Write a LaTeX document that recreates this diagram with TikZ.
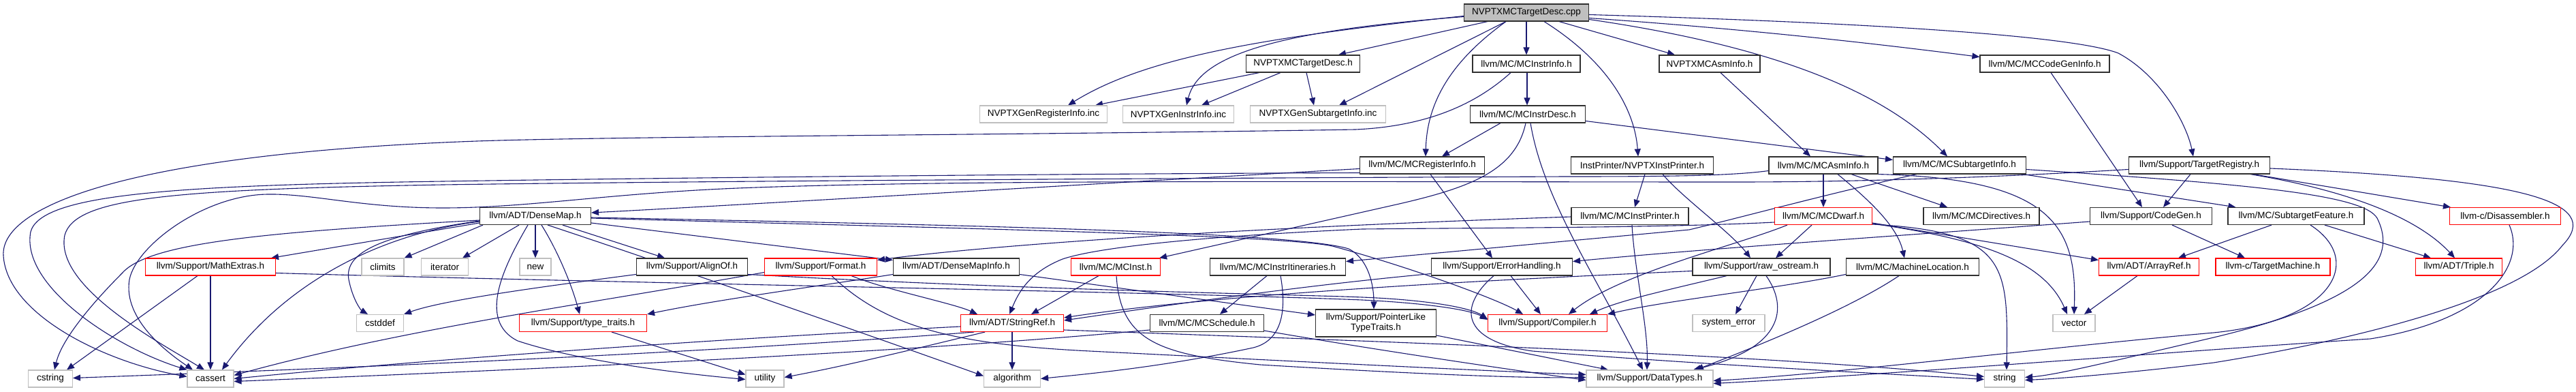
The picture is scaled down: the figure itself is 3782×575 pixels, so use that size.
\documentclass[tikz,border=0pt]{standalone}
\usepackage{fontspec}
\setmainfont{Liberation Sans}
\usetikzlibrary{arrows.meta}
\definecolor{eblue}{HTML}{191970}
\definecolor{gbord}{HTML}{BFBFBF}
\definecolor{rbord}{HTML}{FF0000}
\definecolor{kbord}{HTML}{303030}
\newcommand{\dgfont}{\fontsize{13.5pt}{15pt}\selectfont}
\pgfdeclarelayer{back}
\pgfdeclarelayer{edges}
\pgfsetlayers{back,edges,main}
\begin{document}
\begin{tikzpicture}[x=1pt,y=-1pt,
 nbase/.style={rectangle, line width=1.15pt, fill=white, minimum height=25pt, inner sep=0pt, font=\dgfont, text=black},
 nblk/.style={nbase, draw=kbord},
 nred/.style={nbase, draw=rbord},
 ngry/.style={nbase, draw=gbord},
 nroot/.style={nbase, draw=kbord, fill=gbord},
 dep/.style={draw=eblue, line width=1.1pt, -{Triangle[length=11pt,width=9pt]}}]
\useasboundingbox (0,0) rectangle (3782,575);
\begin{pgfonlayer}{back}
\fill[white] (0,0) rectangle (3782,575);
\end{pgfonlayer}
% row 0
\node[nroot, minimum width=183pt] (cpp) at (2241,18.5) {NVPTXMCTargetDesc.cpp};
% row 1
\node[nblk, minimum width=167pt] (desch) at (1913,93.5) {NVPTXMCTargetDesc.h};
\node[nblk, minimum width=158pt] (instrinfo) at (2241,93.5) {llvm/MC/MCInstrInfo.h};
\node[nblk, minimum width=148pt] (nvasm) at (2510,93.5) {NVPTXMCAsmInfo.h};
\node[nblk, minimum width=190pt] (cgi) at (3002,93.5) {llvm/MC/MCCodeGenInfo.h};
% row 2
\node[ngry, minimum width=187pt] (genreg) at (1532,167.5) {NVPTXGenRegisterInfo.inc};
\node[ngry, minimum width=163pt] (geninstr) at (1730,167.5) {NVPTXGenInstrInfo.inc};
\node[ngry, minimum width=199pt] (gensub) at (1935,167.5) {NVPTXGenSubtargetInfo.inc};
\node[nblk, minimum width=169pt] (instrdesc) at (2243,167.5) {llvm/MC/MCInstrDesc.h};
% row 3
\node[nblk, minimum width=183pt] (reginfo) at (2088,242.5) {llvm/MC/MCRegisterInfo.h};
\node[nblk, minimum width=209pt] (instpr) at (2411,242.5) {InstPrinter/NVPTXInstPrinter.h};
\node[nblk, minimum width=160pt] (mcasm) at (2677,242.5) {llvm/MC/MCAsmInfo.h};
\node[nblk, minimum width=195pt] (subinfo) at (2877,242.5) {llvm/MC/MCSubtargetInfo.h};
\node[nblk, minimum width=207pt] (treg) at (3229,242.5) {llvm/Support/TargetRegistry.h};
% row 4
\node[nblk, minimum width=163pt] (densemap) at (786,317) {llvm/ADT/DenseMap.h};
\node[nblk, minimum width=172pt] (mcip) at (2393,317) {llvm/MC/MCInstPrinter.h};
\node[nred, minimum width=143pt] (dwarf) at (2677,317) {llvm/MC/MCDwarf.h};
\node[nblk, minimum width=170pt] (directives) at (2909,317) {llvm/MC/MCDirectives.h};
\node[nblk, minimum width=179pt] (codegen) at (3158,317) {llvm/Support/CodeGen.h};
\node[nblk, minimum width=200pt] (subfeat) at (3371,317) {llvm/MC/SubtargetFeature.h};
\node[nred, minimum width=163pt] (disasm) at (3678,317) {llvm-c/Disassembler.h};
% row 5
\node[nred, minimum width=191pt] (mathx) at (309,391.5) {llvm/Support/MathExtras.h};
\node[ngry, minimum width=62pt] (climits) at (562,391.5) {climits};
\node[ngry, minimum width=69pt] (iterator) at (653,391.5) {iterator};
\node[ngry, minimum width=46pt] (new) at (786,391.5) {new};
\node[nblk, minimum width=163pt] (alignof) at (1016,391.5) {llvm/Support/AlignOf.h};
\node[nred, minimum width=165pt] (format) at (1205,391.5) {llvm/Support/Format.h};
\node[nblk, minimum width=185pt] (dmi) at (1404,391.5) {llvm/ADT/DenseMapInfo.h};
\node[nred, minimum width=131pt] (mcinst) at (1638,391.5) {llvm/MC/MCInst.h};
\node[nblk, minimum width=199pt] (itin) at (1876,391.5) {llvm/MC/MCInstrItineraries.h};
\node[nblk, minimum width=207pt] (errh) at (2205,391.5) {llvm/Support/ErrorHandling.h};
\node[nblk, minimum width=202pt] (rawos) at (2586,391.5) {llvm/Support/raw\_ostream.h};
\node[nblk, minimum width=195pt] (machloc) at (2808,391.5) {llvm/MC/MachineLocation.h};
\node[nred, minimum width=147pt] (arrayref) at (3155,391.5) {llvm/ADT/ArrayRef.h};
\node[nred, minimum width=168pt] (tmach) at (3337,391.5) {llvm-c/TargetMachine.h};
\node[nred, minimum width=127pt] (triple) at (3610,391.5) {llvm/ADT/Triple.h};
% row 6
\node[ngry, minimum width=69pt] (cstddef) at (558,474) {cstddef};
\node[nred, minimum width=187pt] (ttraits) at (856,474) {llvm/Support/type\_traits.h};
\node[nred, minimum width=151pt] (sref) at (1486,474) {llvm/ADT/StringRef.h};
\node[nblk, minimum width=167pt] (sched) at (1772,474) {llvm/MC/MCSchedule.h};
\node[nblk, minimum width=177pt, minimum height=40pt, align=center] (ptrlike) at (2020,474) {llvm/Support/PointerLike\\TypeTraits.h};
\node[nred, minimum width=175pt] (compiler) at (2272,474) {llvm/Support/Compiler.h};
\node[ngry, minimum width=106pt] (syserr) at (2538,474) {system\_error};
\node[ngry, minimum width=62pt] (vector) at (3045,474) {vector};
% row 7
\node[ngry, minimum width=65pt] (cstring) at (74,555.5) {cstring};
\node[ngry, minimum width=68pt] (cassert) at (309,555.5) {cassert};
\node[ngry, minimum width=56pt] (utility) at (1123,555.5) {utility};
\node[ngry, minimum width=83pt] (algorithm) at (1486,555.5) {algorithm};
\node[ngry, minimum width=186pt] (datatypes) at (2422,555.5) {llvm/Support/DataTypes.h};
\node[ngry, minimum width=59pt] (string) at (2943,555.5) {string};

\begin{pgfonlayer}{edges}
% from cpp
\draw[dep] ([xshift=-57pt]cpp.south) -- ([xshift=52pt]desch.north);
\draw[dep] ([xshift=-30pt]cpp.south) -- ([xshift=31pt]gensub.north);
\draw[dep] ([yshift=-6pt]cpp.west) .. controls (1880,45) and (1760,80) .. ([xshift=12pt]geninstr.north);
\draw[dep] ([yshift=-5pt]cpp.west) .. controls (1850,55) and (1680,85) .. ([xshift=36pt]genreg.north);
\draw[dep] (cpp.south) -- (instrinfo.north);
\draw[dep] ([xshift=-30pt]cpp.south) .. controls (2130,90) and (2095,150) .. ([xshift=5pt]reginfo.north);
\draw[dep] ([xshift=26pt]cpp.south) .. controls (2360,90) and (2400,160) .. ([xshift=-6pt]instpr.north);
\draw[dep] ([xshift=48pt]cpp.south) -- ([xshift=-51pt]nvasm.north);
\draw[dep] ([yshift=-10pt]cpp.east) .. controls (2620,70) and (2770,140) .. ([xshift=-18pt]subinfo.north);
\draw[dep] ([yshift=-8pt]cpp.east) .. controls (2600,45) and (2800,70) .. ([yshift=10pt]cgi.west);
\draw[dep] ([yshift=-3pt]cpp.east) .. controls (2800,35) and (3050,55) .. (3110,78) .. controls (3170,110) and (3210,180) .. ([xshift=-9pt]treg.north);
% NVPTXMCTargetDesc.h
\draw[dep] ([xshift=-64pt]desch.south) -- ([xshift=76pt]genreg.north);
\draw[dep] ([xshift=-33pt]desch.south) -- ([xshift=34pt]geninstr.north);
\draw[dep] ([xshift=5pt]desch.south) -- ([xshift=-6pt]gensub.north);
% MCInstrInfo
\draw[dep] ([xshift=1pt]instrinfo.south) -- ([xshift=-1pt]instrdesc.north);
\draw[dep] ([xshift=-23pt]instrinfo.south) .. controls (2170,150) and (2100,185) .. (1990,190) .. controls (1500,198) and (900,200) .. (700,207) .. controls (200,225) and (0,300) .. (5,375) .. controls (10,460) and (150,530) .. ([yshift=3pt]cassert.west);
% NVPTXMCAsmInfo / MCCodeGenInfo
\draw[dep] ([xshift=16pt]nvasm.south) -- ([xshift=-19pt]mcasm.north);
\draw[dep] ([xshift=9pt]cgi.south) -- ([xshift=-13pt]codegen.north);
% MCInstrDesc
\draw[dep] ([xshift=-40pt]instrdesc.south) -- ([xshift=29pt]reginfo.north);
\draw[dep] ([xshift=-3pt]instrdesc.south) .. controls (2225,250) and (2160,275) .. (2050,300) -- ([xshift=-2pt]mcinst.north east);
\draw[dep] ([yshift=-10pt]instrdesc.east) -- ([yshift=8pt]subinfo.west);
\draw[dep] ([xshift=4pt]instrdesc.south) .. controls (2265,290) and (2340,400) .. ([xshift=-10pt]datatypes.north);
% MCRegisterInfo
\draw[dep] ([yshift=-5pt]reginfo.west) .. controls (1600,270) and (1100,300) .. ([yshift=5pt]densemap.east);
\draw[dep] ([xshift=12pt]reginfo.south) -- ([xshift=-14pt]errh.north);
\draw[dep] ([yshift=-11pt]reginfo.west) .. controls (1500,255) and (900,262) .. (650,266) .. controls (250,272) and (60,285) .. (45,340) .. controls (30,420) and (170,510) .. (cassert.north west);
% NVPTXInstPrinter
\draw[dep] ([xshift=4pt]instpr.south) -- ([xshift=7pt]mcip.north);
\draw[dep] ([xshift=30pt]instpr.south) .. controls (2470,290) and (2540,340) .. ([xshift=-16pt]rawos.north);
% MCAsmInfo
\draw[dep] (mcasm.south) -- (dwarf.north);
\draw[dep] ([xshift=21pt]mcasm.south) .. controls (2740,290) and (2785,330) .. ([xshift=-12pt]machloc.north);
\draw[dep] ([xshift=41pt]mcasm.south) -- ([xshift=-50pt]directives.north);
\draw[dep] (mcasm.south east) .. controls (3010,262) and (3050,330) .. (vector.north);
\draw[dep] ([yshift=-8pt]mcasm.west) .. controls (2540,258) and (2450,259) .. (2300,259) .. controls (1600,262) and (1000,266) .. (650,271) .. controls (250,278) and (110,290) .. (95,345) .. controls (80,420) and (230,500) .. ([xshift=-9pt]cassert.north);
% MCSubtargetInfo
\draw[dep] ([xshift=-63pt]subinfo.south) .. controls (2680,285) and (2560,318) .. (2480,337) -- ([yshift=8pt]itin.east);
\draw[dep] ([xshift=-5pt]subinfo.south east) -- ([xshift=12pt]subfeat.north west);
\draw[dep] ([yshift=-6pt]subinfo.east) .. controls (3300,270) and (3470,285) .. (3490,320) .. controls (3520,380) and (3480,440) .. (3250,495) .. controls (3100,530) and (3020,550) .. ([yshift=2pt]string.east);
% TargetRegistry
\draw[dep] ([xshift=-13pt]treg.south) -- ([xshift=18pt]codegen.north);
\draw[dep] ([xshift=75pt]treg.south) .. controls (3450,280) and (3550,320) .. ([xshift=-6pt]triple.north);
\draw[dep] ([xshift=79pt]treg.south) -- ([xshift=2pt]disasm.north west);
\draw[dep] ([yshift=-6pt]treg.west) .. controls (2900,262) and (2700,267) .. (2550,267) .. controls (2000,267) and (1450,263) .. (1110,275) .. controls (900,282) and (780,305) .. (650,305) .. controls (530,305) and (460,284) .. (393,285) .. controls (300,286) and (200,360) .. (190,410) .. controls (180,470) and (250,520) .. ([xshift=-26pt]cassert.north);
\draw[dep] ([yshift=-4.5pt]treg.east) .. controls (3700,262) and (3825,295) .. (3762,360) .. controls (3700,440) and (3450,500) .. (3250,532) .. controls (3100,550) and (3010,556) .. ([yshift=-2pt]string.east);
% MCInstrItineraries
\draw[dep] ([xshift=-16pt]itin.south) -- ([xshift=19pt]sched.north);
\draw[dep] ([xshift=4pt]itin.south) .. controls (1890,460) and (1880,500) .. (1840,510) .. controls (1700,540) and (1580,550) .. (algorithm.east);
% SubtargetFeature
\draw[dep] ([xshift=-36pt]subfeat.south) -- ([xshift=43pt]arrayref.north);
\draw[dep] ([xshift=42pt]subfeat.south) -- ([xshift=-41pt]triple.north);
\draw[dep] ([xshift=21pt]subfeat.south) .. controls (3470,380) and (3430,470) .. (3250,488) .. controls (3000,510) and (2700,548) .. ([yshift=-3pt]datatypes.east);
% Disassembler
\draw[dep] ([xshift=6pt]disasm.south) .. controls (3710,390) and (3650,470) .. (3480,497) .. controls (3200,515) and (2800,548) .. ([yshift=-7pt]datatypes.east);
% CodeGen
\draw[dep] ([xshift=31pt]codegen.south) -- ([xshift=-41pt]tmach.north);
\draw[dep] ([yshift=-8pt]codegen.west) .. controls (2800,345) and (2500,365) .. ([yshift=8pt]errh.east);
% ArrayRef
\draw[dep] ([xshift=-17pt]arrayref.south) -- ([xshift=15pt]vector.north);
% MCDwarf
\draw[dep] ([yshift=-9pt]dwarf.west) .. controls (2450,334) and (2200,334) .. (2000,336) .. controls (1800,345) and (1620,360) .. (1560,380) .. controls (1510,400) and (1495,430) .. ([xshift=-4pt]sref.north);
\draw[dep] ([xshift=-53pt]dwarf.south) .. controls (2550,360) and (2380,400) .. ([xshift=31pt]compiler.north);
\draw[dep] ([xshift=-17pt]dwarf.south) -- ([xshift=21pt]rawos.north);
\draw[dep] ([yshift=-10pt]dwarf.east) -- ([yshift=10pt]arrayref.west);
\draw[dep] ([yshift=-11pt]dwarf.east) .. controls (2900,350) and (3000,380) .. ([xshift=-10pt]vector.north);
\draw[dep] ([yshift=-12pt]dwarf.east) .. controls (2950,340) and (2948,390) .. ([xshift=3pt]string.north);
% MCInstPrinter
\draw[dep] ([yshift=-1pt]mcip.west) .. controls (1800,335) and (1450,360) .. ([yshift=10pt]format.east);
\draw[dep] ([xshift=3pt]mcip.south) .. controls (2400,400) and (2420,480) .. ([xshift=-4pt]datatypes.north);
% raw_ostream
\draw[dep] ([xshift=-7pt]rawos.south) -- ([xshift=10pt]syserr.north);
\draw[dep] ([xshift=7pt]rawos.south) .. controls (2625,450) and (2620,510) .. ([xshift=64pt]datatypes.north);
\draw[dep] ([xshift=-51pt]rawos.south) .. controls (2450,425) and (2380,440) .. ([xshift=62pt]compiler.north);
\draw[dep] ([yshift=-6pt]rawos.west) .. controls (2200,410) and (1800,430) .. ([yshift=8pt]sref.east);
% ErrorHandling
\draw[dep] ([xshift=13pt]errh.south) -- ([xshift=-10pt]compiler.north);
\draw[dep] ([yshift=-10pt]errh.west) .. controls (1900,420) and (1700,450) .. ([yshift=4pt]sref.east);
\draw[dep] ([xshift=-12pt]errh.south) .. controls (2140,450) and (2145,500) .. (2250,515) .. controls (2500,535) and (2800,550) .. ([yshift=-1pt]string.west);
% MachineLocation
\draw[dep] ([yshift=-11pt]machloc.west) .. controls (2600,425) and (2450,440) .. (compiler.north east);
\draw[dep] ([xshift=-20pt]machloc.south) .. controls (2720,450) and (2600,500) .. ([xshift=68pt]datatypes.north);
% DenseMap
\draw[dep] ([yshift=-10pt]densemap.west) -- ([xshift=-7pt]mathx.north east);
\draw[dep] ([yshift=-6pt]densemap.west) .. controls (400,340) and (220,355) .. (180,400) .. controls (130,450) and (90,500) .. ([xshift=6pt]cstring.north);
\draw[dep] ([yshift=-8pt]densemap.west) .. controls (580,340) and (430,400) .. ([xshift=17pt]cassert.north);
\draw[dep] ([yshift=-7pt]densemap.west) .. controls (560,345) and (505,370) .. (512,410) .. controls (518,440) and (530,455) .. ([xshift=-18pt]cstddef.north);
\draw[dep] ([xshift=5pt]densemap.south west) -- (climits.north east);
\draw[dep] ([xshift=-24pt]densemap.south) -- ([xshift=26pt]iterator.north);
\draw[dep] (densemap.south) -- (new.north);
\draw[dep] ([xshift=-11pt]densemap.south) .. controls (740,390) and (700,470) .. (760,500) .. controls (850,530) and (1000,548) .. ([yshift=-1pt]utility.west);
\draw[dep] ([xshift=9pt]densemap.south) .. controls (820,370) and (840,420) .. ([xshift=-5pt]ttraits.north);
\draw[dep] ([xshift=18pt]densemap.south) .. controls (1000,395) and (1300,500) .. ([yshift=4pt]algorithm.west);
\draw[dep] ([xshift=40pt]densemap.south) -- ([xshift=-40pt]alignof.north);
\draw[dep] ([yshift=-10pt]densemap.east) -- ([yshift=10pt]dmi.west);
\draw[dep] ([yshift=-2pt]densemap.east) .. controls (1400,330) and (1900,340) .. (1980,365) .. controls (2010,380) and (2017,420) .. ([xshift=-3pt]ptrlike.north);
\draw[dep] ([yshift=-3pt]densemap.east) .. controls (1400,335) and (1900,345) .. (1960,362) .. controls (2080,395) and (2200,440) .. ([xshift=-36pt]compiler.north);
% MathExtras
\draw[dep] ([xshift=-19pt]mathx.south) -- ([xshift=24pt]cstring.north);
\draw[dep] (mathx.south) -- (cassert.north);
\draw[dep] ([yshift=-9pt]mathx.east) .. controls (900,415) and (1700,428) .. (2000,440) .. controls (2100,445) and (2160,455) .. ([yshift=5pt]compiler.west);
% AlignOf
\draw[dep] ([yshift=-11pt]alignof.west) .. controls (800,420) and (650,440) .. (cstddef.north east);
\draw[dep] ([yshift=-11pt]alignof.east) .. controls (1500,425) and (1900,432) .. (2000,436) .. controls (2100,440) and (2160,452) .. ([yshift=6pt]compiler.west);
% Format
\draw[dep] ([yshift=-8pt]format.west) .. controls (900,440) and (600,480) .. ([yshift=5pt]cassert.east);
\draw[dep] ([xshift=16pt]format.south) .. controls (1300,480) and (1400,505) .. (1600,515) .. controls (1900,530) and (2200,545) .. ([yshift=6pt]datatypes.west);
\draw[dep] ([xshift=45pt]format.south) .. controls (1300,425) and (1400,445) .. ([xshift=-51pt]sref.north);
% DenseMapInfo
\draw[dep] ([yshift=-11pt]dmi.west) .. controls (1200,420) and (1050,440) .. (ttraits.north east);
\draw[dep] ([yshift=-11pt]dmi.east) -- ([yshift=12pt]ptrlike.west);
% MCInst
\draw[dep] ([xshift=-25pt]mcinst.south) -- ([xshift=28pt]sref.north);
\draw[dep] ([xshift=1pt]mcinst.south) .. controls (1645,500) and (1700,520) .. (1850,535) .. controls (2100,550) and (2250,555) .. ([yshift=2pt]datatypes.west);
% type_traits
\draw[dep] ([xshift=42pt]ttraits.south) -- ([yshift=6pt]utility.west);
% StringRef
\draw[dep] (sref.south) -- (algorithm.north);
\draw[dep] ([yshift=-5pt]sref.west) .. controls (1000,500) and (600,530) .. (cassert.east);
\draw[dep] ([xshift=-56pt]sref.south) .. controls (1000,520) and (500,540) .. ([yshift=1pt]cstring.east);
\draw[dep] ([xshift=-40pt]sref.south) .. controls (1350,510) and (1250,535) .. ([yshift=2pt]utility.east);
\draw[dep] ([yshift=-10pt]sref.east) .. controls (2000,500) and (2600,520) .. ([yshift=3pt]string.west);
% MCSchedule
\draw[dep] ([yshift=-10pt]sched.west) .. controls (1300,520) and (700,545) .. ([yshift=-4pt]cassert.east);
\draw[dep] ([yshift=-11pt]sched.east) .. controls (2000,510) and (2200,540) .. ([yshift=-2pt]datatypes.west);
% PointerLikeTypeTraits
\draw[dep] ([yshift=-18pt]ptrlike.east) -- ([xshift=-61pt]datatypes.north);
\end{pgfonlayer}
\end{tikzpicture}
\end{document}
